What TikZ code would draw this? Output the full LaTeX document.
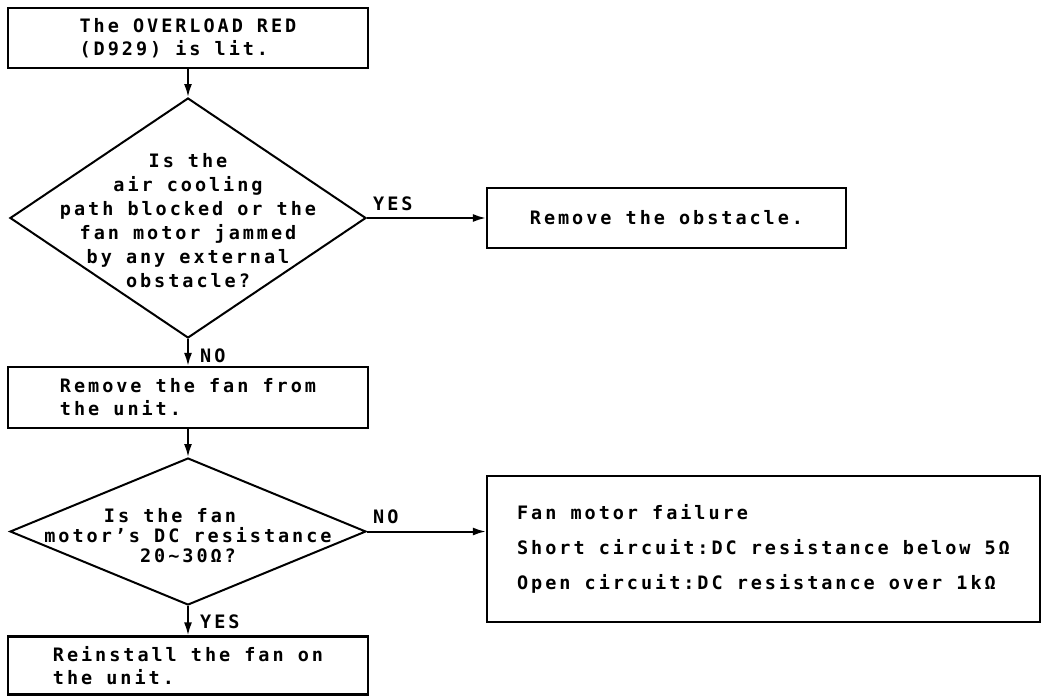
\documentclass[tikz,border=0pt]{standalone}
\usepackage{fontspec}
\setmainfont{DejaVu Sans Mono}[LetterSpace=16]
\usetikzlibrary{shapes.geometric,arrows.meta}
\newcommand\txtfont{\bfseries\fontsize{18.5}{23}\selectfont}
\tikzset{
  box/.style={draw, line width=2.2pt, inner sep=0pt, align=left, font=\txtfont},
  dia/.style={draw, diamond, line width=2pt, inner sep=0pt},
  dtext/.style={inner sep=0pt, align=center},
  lbl/.style={font=\txtfont, inner sep=0pt, anchor=base west},
  arr/.style={line width=2pt, -{Latex[length=13pt,width=8pt]}},
}
\begin{document}
\begin{tikzpicture}[x=1pt,y=-1pt]
\useasboundingbox (0,0) rectangle (1049,696);
% boxes
\node[box, minimum width=360pt, minimum height=60pt] (b1) at (188,38) {The OVERLOAD RED\\(D929) is lit.};
\node[dia, minimum width=356pt, minimum height=240pt] (d1) at (188,218) {};
\node[dtext, font=\bfseries\fontsize{18.5}{24}\selectfont] (d1t) at (188,221) {Is the\\air cooling\\path blocked or the\\fan motor jammed\\by any external\\obstacle?};
\node[box, minimum width=360pt, minimum height=61pt] (b2) at (188,397.5) {Remove the fan from\\the unit.};
\node[dia, minimum width=356pt, minimum height=147pt] (d2) at (188,531.5) {};
\node[dtext, font=\bfseries\fontsize{18.5}{20}\selectfont] (d2t) at (188,536) {Is the fan\hspace*{36pt}\\motor’s DC resistance\\20\textasciitilde 30Ω?};
\node[box, minimum width=360pt, minimum height=58pt] (b3) at (188,665.5) {Reinstall the fan on\\the unit.};
\node[box, minimum width=359pt, minimum height=60pt] (ob) at (666.5,218) {Remove the obstacle.};
\node[box, minimum width=553pt, minimum height=146pt, font=\bfseries\fontsize{18.5}{35}\selectfont] (fm) at (763.5,549) {Fan motor failure\\Short circuit:DC resistance below 5Ω\\Open circuit:DC resistance over 1kΩ};
% connectors
\draw[arr] (b1.south) -- (d1.north);
\draw[arr] (d1.east) -- (ob.west);
\draw[arr] (d1.south) -- (b2.north);
\draw[arr] (b2.south) -- (d2.north);
\draw[arr] (d2.east) -- (d2.east -| fm.west);
\draw[arr] (d2.south) -- (b3.north);
% labels
\node[lbl] (yes1) at (373,210) {YES};
\node[lbl] (no1) at (200,362) {NO};
\node[lbl] (no2) at (373,523) {NO};
\node[lbl] (yes2) at (200,628) {YES};
\end{tikzpicture}
\end{document}
